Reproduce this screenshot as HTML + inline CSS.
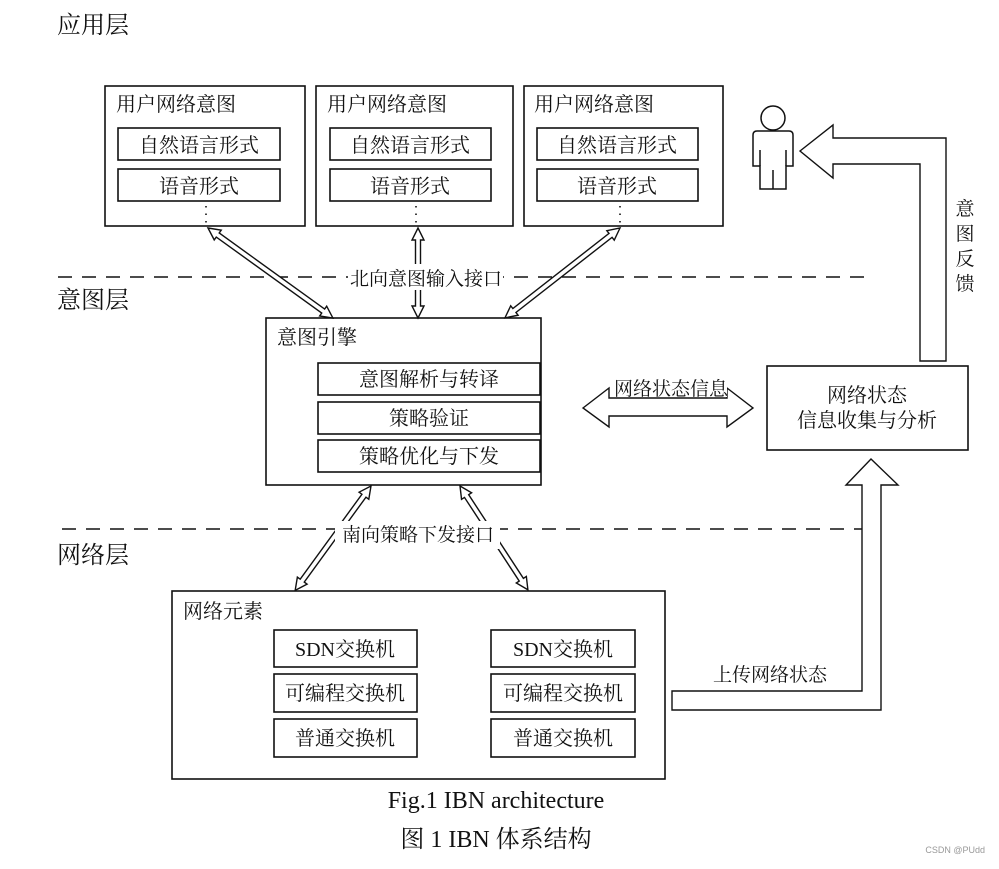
<!DOCTYPE html>
<html><head><meta charset="utf-8"><style>
body{margin:0;background:#fff}
svg text{font-family:"Liberation Serif","Noto Serif CJK SC","Noto Sans CJK SC",serif;fill:#111}
</style></head><body>
<svg width="999" height="864" viewBox="0 0 999 864" xmlns="http://www.w3.org/2000/svg">
<g font-size="24">
<text x="57" y="33">应用层</text>
<text x="57" y="308">意图层</text>
<text x="57" y="563">网络层</text>
</g>
<g stroke="#111" stroke-width="1.6" stroke-dasharray="14,10">
<line x1="58" y1="277" x2="870" y2="277"/>
<line x1="62" y1="529" x2="875" y2="529"/>
</g>
<g fill="none" stroke="#111" stroke-width="1.6">
<rect x="105" y="86" width="200" height="140"/>
<rect x="316" y="86" width="197" height="140"/>
<rect x="524" y="86" width="199" height="140"/>
<rect x="118" y="128" width="162" height="32"/>
<rect x="118" y="169" width="162" height="32"/>
<rect x="330" y="128" width="161" height="32"/>
<rect x="330" y="169" width="161" height="32"/>
<rect x="537" y="128" width="161" height="32"/>
<rect x="537" y="169" width="161" height="32"/>
<rect x="266" y="318" width="275" height="167"/>
<rect x="318" y="363" width="222" height="32"/>
<rect x="318" y="402" width="222" height="32"/>
<rect x="318" y="440" width="222" height="32"/>
<rect x="767" y="366" width="201" height="84"/>
<rect x="172" y="591" width="493" height="188"/>
<rect x="274" y="630" width="143" height="37"/>
<rect x="274" y="674" width="143" height="38"/>
<rect x="274" y="719" width="143" height="38"/>
<rect x="491" y="630" width="144" height="37"/>
<rect x="491" y="674" width="144" height="38"/>
<rect x="491" y="719" width="144" height="38"/>
</g>
<g stroke="#111" stroke-width="1.6" stroke-dasharray="1.5,6">
<line x1="206" y1="206" x2="206" y2="226"/>
<line x1="416" y1="206" x2="416" y2="226"/>
<line x1="620" y1="206" x2="620" y2="226"/>
</g>
<g font-size="20">
<text x="116" y="111">用户网络意图</text>
<text x="327" y="111">用户网络意图</text>
<text x="534" y="111">用户网络意图</text>
<g text-anchor="middle">
<text x="199" y="152">自然语言形式</text>
<text x="199" y="193">语音形式</text>
<text x="410" y="152">自然语言形式</text>
<text x="410" y="193">语音形式</text>
<text x="617" y="152">自然语言形式</text>
<text x="617" y="193">语音形式</text>
<text x="429" y="386">意图解析与转译</text>
<text x="429" y="425">策略验证</text>
<text x="429" y="463">策略优化与下发</text>
<text x="867" y="402">网络状态</text>
<text x="867" y="427">信息收集与分析</text>
<text x="345" y="656">SDN交换机</text>
<text x="345" y="700">可编程交换机</text>
<text x="345" y="745">普通交换机</text>
<text x="563" y="656">SDN交换机</text>
<text x="563" y="700">可编程交换机</text>
<text x="563" y="745">普通交换机</text>
</g>
<text x="277" y="344">意图引擎</text>
<text x="183" y="618">网络元素</text>
</g>
<g fill="#fff" stroke="#111" stroke-width="1.4">
<g transform="translate(208,228) rotate(35.8)"><polygon points="0,0 12,-6 12,-2.5 142,-2.5 142,-6 154,0 142,6 142,2.5 12,2.5 12,6"/></g>
<g transform="translate(418,228) rotate(90)"><polygon points="0,0 12,-6 12,-2.5 78,-2.5 78,-6 90,0 78,6 78,2.5 12,2.5 12,6"/></g>
<g transform="translate(620,228) rotate(142)"><polygon points="0,0 12,-6 12,-2.5 134,-2.5 134,-6 146,0 134,6 134,2.5 12,2.5 12,6"/></g>
<g transform="translate(371,486) rotate(126)"><polygon points="0,0 12,-6 12,-2.5 117,-2.5 117,-6 129,0 117,6 117,2.5 12,2.5 12,6"/></g>
<g transform="translate(460,486) rotate(56.8)"><polygon points="0,0 12,-6 12,-2.5 112,-2.5 112,-6 124,0 112,6 112,2.5 12,2.5 12,6"/></g>
<polygon points="583,408 609,388 609,398 727,398 727,388 753,408 727,427 727,416 609,416 609,427"/>
<polygon points="800,151 833,125 833,138 946,138 946,361 920,361 920,164 833,164 833,178"/>
<polygon points="672,691 862,691 862,485 846,485 871,459 898,485 881,485 881,710 672,710"/>
</g>
<rect x="348" y="264" width="155" height="26" fill="#fff"/>
<rect x="335" y="521" width="165" height="28" fill="#fff"/>
<rect x="612" y="379" width="115" height="18" fill="#fff"/>
<g font-size="19">
<text x="426" y="285" text-anchor="middle">北向意图输入接口</text>
<text x="418" y="541" text-anchor="middle">南向策略下发接口</text>
<text x="614" y="395">网络状态信息</text>
<text x="713" y="681">上传网络状态</text>
<g text-anchor="middle">
<text x="965" y="215">意</text>
<text x="965" y="240">图</text>
<text x="965" y="265">反</text>
<text x="965" y="290">馈</text>
</g>
</g>
<g fill="#fff" stroke="#111" stroke-width="1.5">
<circle cx="773" cy="118" r="12"/>
<path d="M757,131 H789 Q793,131 793,135 V166 H786 V189 H760 V166 H753 V135 Q753,131 757,131 Z"/>
<line x1="760" y1="150" x2="760" y2="166"/>
<line x1="786" y1="150" x2="786" y2="166"/>
<line x1="773" y1="170" x2="773" y2="189"/>
</g>
<text x="496" y="808" text-anchor="middle" font-size="24">Fig.1 IBN architecture</text>
<text x="496" y="847" text-anchor="middle" font-size="24">图 1 IBN 体系结构</text>
<text x="985" y="853" text-anchor="end" font-size="9" style="fill:#999;font-family:'Liberation Sans',sans-serif">CSDN @PUdd</text>
</svg>
</body></html>
